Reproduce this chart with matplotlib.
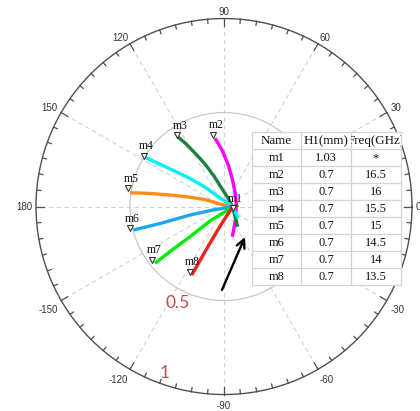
import numpy as np
import matplotlib.pyplot as plt
from matplotlib import transforms
from matplotlib.patches import Rectangle

plt.rcParams['font.family'] = ['Liberation Sans', 'DejaVu Sans']

# ---------------- reflection traces (magnitude, phase in degrees) ----------------
names = ['m2', 'm3', 'm4', 'm5', 'm6', 'm7', 'm8']
colors = ['#ff00ff', '#188040', '#00f0f8', '#ff8c1a', '#1ca6f0', '#00ee00', '#f02020']

mag_m2 = [0.367, 0.301, 0.222, 0.158, 0.098, 0.066, 0.094, 0.167]
ph_m2 = [97.5, 92.0, 84.1, 74.3, 53.4, 7.0, -49.6, -74.6]

mag_m3 = [0.443, 0.396, 0.324, 0.248, 0.171, 0.098, 0.050, 0.043, 0.077, 0.130]
ph_m3 = [123.5, 121.5, 118.5, 114.1, 108.2, 97.2, 64.8, 3.6, -40.8, -55.8]

mag_m4 = [0.489, 0.379, 0.254, 0.145, 0.060, 0.028, 0.043, 0.098]
ph_m4 = [148.0, 145.9, 141.4, 134.3, 120.2, 41.1, 0.0, -38.8]

mag_m5 = [0.505, 0.400, 0.294, 0.205, 0.108, 0.025, 0.043, 0.065]
ph_m5 = [171.6, 170.0, 168.0, 165.3, 159.8, 148.0, -3.6, -9.4]

mag_m6 = [0.498, 0.352, 0.186, 0.051, 0.043, 0.064]
ph_m6 = [-165.5, -165.1, -166.0, -161.5, -3.6, 2.4]

mag_m7 = [0.475, 0.361, 0.242, 0.107, 0.043]
ph_m7 = [-140.5, -140.1, -138.4, -134.0, -7.1]

mag_m8 = [0.403, 0.250, 0.117, 0.043, 0.077]
ph_m8 = [-115.2, -112.5, -103.1, -7.1, 6.0]

traces_mag = [mag_m2, mag_m3, mag_m4, mag_m5, mag_m6, mag_m7, mag_m8]
traces_ph = [ph_m2, ph_m3, ph_m4, ph_m5, ph_m6, ph_m7, ph_m8]

# marker positions m1..m8
marker_names = ['m1', 'm2', 'm3', 'm4', 'm5', 'm6', 'm7', 'm8']
marker_mag = [0.050, 0.385, 0.454, 0.503, 0.518, 0.513, 0.478, 0.391]
marker_ph = [-11.0, 98.5, 123.2, 147.5, 169.2, -166.9, -143.5, -117.5]

# table contents
tab_header = ['Name', 'H1(mm)', 'Freq(GHz)']
tab_h1 = ['1.03', '0.7', '0.7', '0.7', '0.7', '0.7', '0.7', '0.7']
tab_freq = ['*', '16.5', '16', '15.5', '15', '14.5', '14', '13.5']

# angular axis labels
theta_ticks = np.arange(0, 360, 30)
theta_labels = ['0', '30', '60', '90', '120', '150', '180', '-150', '-120', '-90', '-60', '-30']

# ---------------- polar plot ----------------
fig = plt.figure(figsize=(4.2, 4.11), dpi=100)
ax = fig.add_axes([0.0857, 0.0401, 0.8952, 0.9148], projection='polar')
ax.set_rlim(0, 1)
ax.set_thetagrids(theta_ticks, labels=[''] * len(theta_ticks))
ax.set_rgrids([0.5], labels=[''])

ax.xaxis.grid(True, color='#d2d2d2', linestyle=(0, (4, 3)), linewidth=0.8)
ax.yaxis.grid(True, color='#c8c8c8', linestyle='-', linewidth=0.9)
ax.spines['polar'].set_color('#505050')
ax.spines['polar'].set_linewidth(1.0)
ax.tick_params(axis='both', length=0)

# inward tick marks on the rim: long every 30 deg, short every 5 deg
for deg in range(0, 360, 5):
    tl = 0.040 if deg % 30 == 0 else 0.022
    th = np.deg2rad(deg)
    ax.plot([th, th], [1 - tl, 1], color='#505050', lw=0.9, clip_on=False, zorder=2)

# angle labels just outside the rim
for deg, lab in zip(theta_ticks, theta_labels):
    th = np.deg2rad(deg)
    c, s = np.cos(th), np.sin(th)
    ha = 'left' if c > 0.1 else ('right' if c < -0.1 else 'center')
    va = 'bottom' if s > 0.1 else ('top' if s < -0.1 else 'center')
    dy = -2.5 if abs(s) > 0.1 else 0
    tr = transforms.offset_copy(ax.transData, fig=fig, x=4 * c, y=4 * s + dy, units='dots')
    ax.text(th, 1.0, lab, transform=tr, ha=ha, va=va, fontsize=7, color='#333333',
            clip_on=False)

for mag, ph, c in zip(traces_mag, traces_ph, colors):
    ax.plot(np.deg2rad(ph), mag, color=c, lw=2.4, solid_capstyle='butt', zorder=3)

ax.plot(np.deg2rad(marker_ph), marker_mag, linestyle='none', marker='v', ms=5,
        mfc='white', mec='#333333', mew=0.8, zorder=5, clip_on=False)
lab_tr = transforms.offset_copy(ax.transData, fig=fig, x=2.5, y=9.5, units='dots')
for nm, mg, ph in zip(marker_names, marker_mag, marker_ph):
    ax.text(np.deg2rad(ph), mg, nm, transform=lab_tr, ha='center', va='center',
            fontsize=8.5, family='Liberation Serif', color='#111111', zorder=6)

# arrow pointing at the matched point
ax.annotate('', xy=(np.deg2rad(-55.4), 0.197), xytext=(np.deg2rad(-91.4), 0.444),
            arrowprops=dict(arrowstyle='->', color='black', lw=1.7, mutation_scale=15,
                            shrinkA=0, shrinkB=0), zorder=6)

# radial scale labels
ax.text(np.deg2rad(-115.6), 0.569, '0.5', color='#c0504d', fontsize=12.5, family='Lato',
        ha='center', va='center')
ax.text(np.deg2rad(-109.7), 0.942, '1', color='#c0504d', fontsize=12.5, family='Lato',
        ha='center', va='center')

# ---------------- marker table ----------------
tab = fig.add_axes([251.7 / 420, (411 - 285) / 411, 149 / 420, 152.7 / 411])
tab.set_xlim(0, 3)
tab.set_ylim(9, 0)
tab.set_xticks([])
tab.set_yticks([])
tab.set_facecolor('white')
for sp in tab.spines.values():
    sp.set_color('#d4d4d4')
    sp.set_linewidth(0.9)
for i in range(1, 9):
    tab.axhline(i, color='#d4d4d4', lw=0.9)
for j in range(1, 3):
    tab.axvline(j, color='#d4d4d4', lw=0.9)

rows = [tab_header] + [[nm, h, f] for nm, h, f in zip(marker_names, tab_h1, tab_freq)]
for i, row in enumerate(rows):
    for j, txt in enumerate(row):
        fs = 9.4 if i == 0 else 8.9
        t = tab.text(j + 0.5, i + 0.52, txt, ha='center', va='center', fontsize=fs,
                     family='Liberation Serif', color='#111111', clip_on=True)
        t.set_clip_path(Rectangle((j, i), 1, 1, transform=tab.transData))

fig.savefig('out.png', dpi=100)
